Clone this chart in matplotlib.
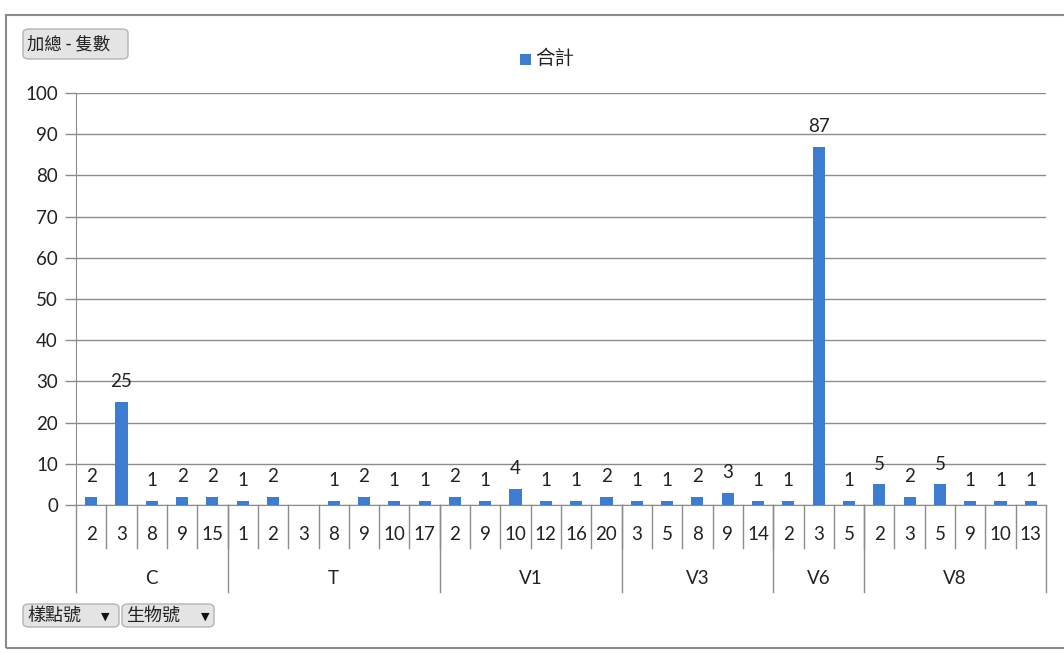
import matplotlib
matplotlib.use("Agg")
import matplotlib.pyplot as plt
from matplotlib.patches import FancyBboxPatch, Rectangle
from matplotlib.lines import Line2D
import matplotlib.transforms as mtransforms

# pivot data: 樣點號 -> 生物號 -> 集數
groups = ["C", "T", "V1", "V3", "V6", "V8"]
sub_labels = [
    ["2", "3", "8", "9", "15"],
    ["1", "2", "3", "8", "9", "10", "17"],
    ["2", "9", "10", "12", "16", "20"],
    ["3", "5", "8", "9", "14"],
    ["2", "3", "5"],
    ["2", "3", "5", "9", "10", "13"],
]
values = [
    [2, 25, 1, 2, 2],
    [1, 2, None, 1, 2, 1, 1],
    [2, 1, 4, 1, 1, 2],
    [1, 1, 2, 3, 1],
    [1, 87, 1],
    [5, 2, 5, 1, 1, 1],
]

W, H = 1064, 653
plt.rcParams['font.family'] = ['Lato', 'Noto Sans CJK TC', 'DejaVu Sans']
cjk = ['Noto Sans CJK TC', 'DejaVu Sans']
bar_color = '#3c7dd2'
grid_color = '#8c8c8c'
txt = '#222222'
fs = 13.5

fig = plt.figure(figsize=(W / 100, H / 100), dpi=100)
x0, x1, ytop, ybot = 76, 1046, 93, 505
ax = fig.add_axes([x0 / W, 1 - ybot / H, (x1 - x0) / W, (ybot - ytop) / H])

# flatten
xs, ys, ticks = [], [], []
bounds = [0]
i = 0
for g, labs, vals in zip(groups, sub_labels, values):
    for lab, v in zip(labs, vals):
        xs.append(i)
        ys.append(v)
        ticks.append(lab)
        i += 1
    bounds.append(i)
n = i

bx = [x for x, y in zip(xs, ys) if y is not None]
by = [y for y in ys if y is not None]
ax.bar(bx, by, width=0.4, color=bar_color, zorder=3)
for x, y in zip(bx, by):
    ax.annotate(str(y), (x, y), xytext=(0, 8.5), textcoords='offset points',
                ha='center', va='bottom', fontsize=fs, color=txt)

ax.set_xlim(-0.5, n - 0.5)
ax.set_ylim(0, 100)
ax.set_yticks(range(0, 101, 10))
ax.yaxis.grid(True, color=grid_color, lw=1)
ax.set_axisbelow(True)
ax.tick_params(axis='y', length=8, width=1, color=grid_color, labelsize=fs,
               pad=5, labelcolor=txt)
ax.tick_params(axis='x', length=0, labelbottom=False)
for s in ['top', 'right']:
    ax.spines[s].set_visible(False)
ax.spines['bottom'].set_color(grid_color)
ax.spines['left'].set_color(grid_color)

# multi-level category axis
tr = mtransforms.blended_transform_factory(ax.transData, fig.transFigure)
def fy(py):
    return 1 - py / H

for x, lab in zip(xs, ticks):
    ax.text(x, fy(535), lab, transform=tr, ha='center', va='center',
            fontsize=fs, color=txt)
for k in range(1, n):
    ax.add_line(Line2D([k - 0.5, k - 0.5], [fy(ybot), fy(548)], transform=tr,
                       color=grid_color, lw=1, clip_on=False))
for b in bounds:
    ax.add_line(Line2D([b - 0.5, b - 0.5], [fy(ybot), fy(592)], transform=tr,
                       color=grid_color, lw=1, clip_on=False))
for g, a, b in zip(groups, bounds[:-1], bounds[1:]):
    ax.text((a + b - 1) / 2, fy(578), g, transform=tr, ha='center', va='center',
            fontsize=fs, color=txt)

# outer frame
fig.add_artist(Rectangle((6 / W, fy(648)), 1.2, (648 - 15) / H, transform=fig.transFigure,
                         fill=False, edgecolor='#8a8a8a', lw=1.5))

# pivot buttons
def button(px, py, pw, ph, text, size, arrow_x=None):
    fig.add_artist(FancyBboxPatch((px / W, fy(py + ph)), pw / W, ph / H,
                                  boxstyle='round,pad=0,rounding_size=0.006',
                                  transform=fig.transFigure, facecolor='#e4e4e4',
                                  edgecolor='#b4b4b4', lw=1))
    fig.text((px + 4) / W, fy(py + ph / 2), text, family=cjk, fontsize=size,
             va='center', ha='left', color=txt)
    if arrow_x is not None:
        fig.text(arrow_x / W, fy(py + ph / 2 + 1), '▼', family=['DejaVu Sans'],
                 fontsize=8, va='center', ha='center', color='#111111')

button(23, 29, 105, 30, '加總 - 隻數', 12.5)
button(23, 604, 96, 23, '樣點號', 13, arrow_x=105)
button(122, 604, 92, 23, '生物號', 13, arrow_x=205)

# legend
fig.add_artist(Rectangle((520 / W, fy(65)), 11 / W, 11 / H, transform=fig.transFigure,
                         facecolor=bar_color, edgecolor='none'))
fig.text(535 / W, fy(59), '合計', family=cjk, fontsize=14, va='center', ha='left',
         color=txt)

fig.savefig('out.png', dpi=100)
